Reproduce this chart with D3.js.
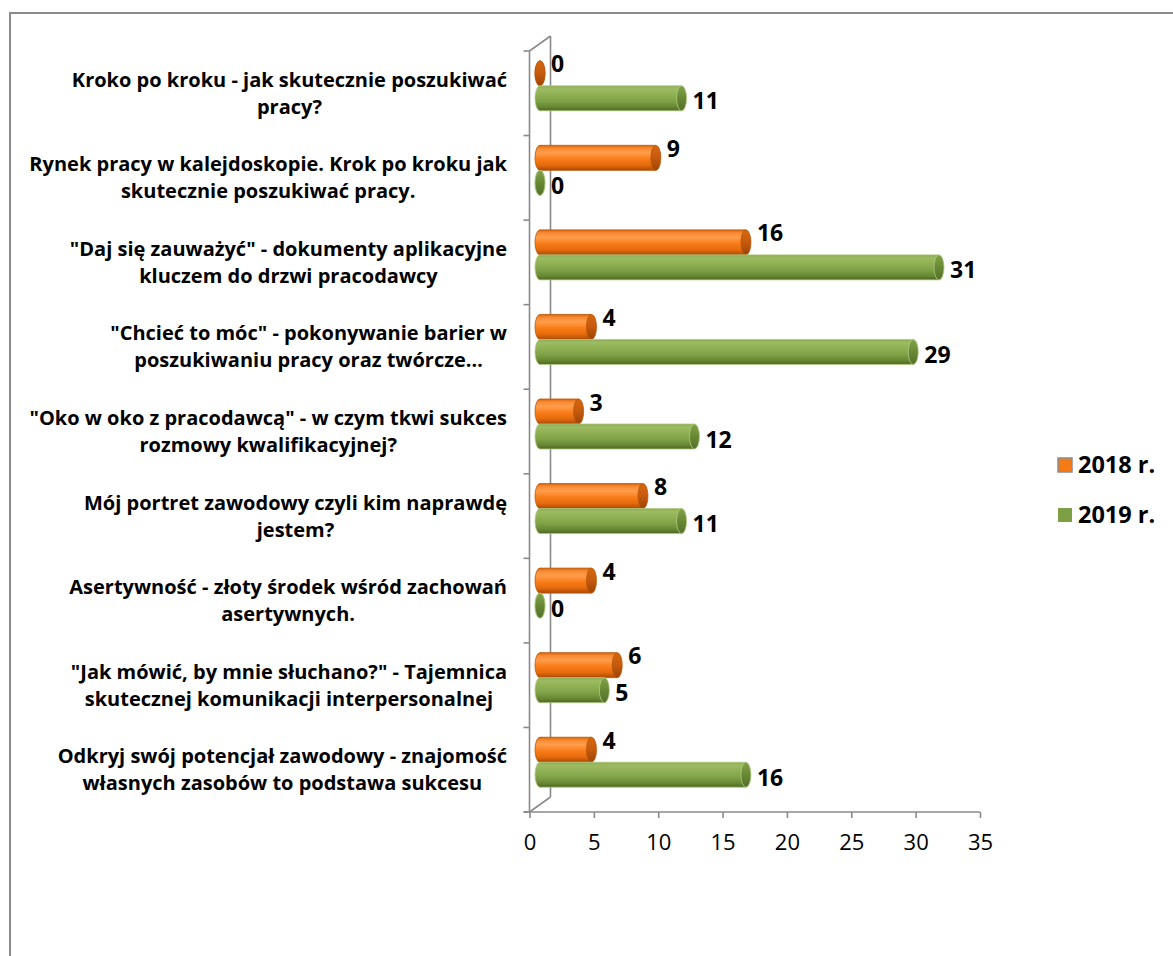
<!DOCTYPE html>
<html><head><meta charset="utf-8">
<script src="https://cdn.jsdelivr.net/npm/d3@7"></script>
<style>html,body{margin:0;padding:0;background:#fff;}svg{display:block;}</style>
</head><body>
<script>
const categories = [
  "Kroko po kroku - jak skutecznie poszukiwać|pracy?",
  "Rynek pracy w kalejdoskopie. Krok po kroku jak|skutecznie poszukiwać pracy.",
  "\"Daj się zauważyć\" - dokumenty aplikacyjne|kluczem do drzwi pracodawcy",
  "\"Chcieć to móc\" - pokonywanie barier w|poszukiwaniu pracy oraz twórcze…",
  "\"Oko w oko z pracodawcą\" - w czym tkwi sukces|rozmowy kwalifikacyjnej?",
  "Mój portret zawodowy czyli kim naprawdę|jestem?",
  "Asertywność - złoty środek wśród zachowań|asertywnych.",
  "\"Jak mówić, by mnie słuchano?\" - Tajemnica|skutecznej komunikacji interpersonalnej",
  "Odkryj swój potencjał zawodowy - znajomość|własnych zasobów to podstawa sukcesu"
];
const seriesNames = ["2018 r.", "2019 r."];
const values2018 = [0, 9, 16, 4, 3, 8, 4, 6, 4];
const values2019 = [11, 0, 31, 29, 12, 11, 0, 5, 16];
const xTicks = [0, 5, 10, 15, 20, 25, 30, 35];

const W = 1173, H = 956;
const svg = d3.select("body").append("svg").attr("width", W).attr("height", H);
const defs = svg.append("defs");

const FONT = "'Open Sans', sans-serif";
const axisColor = "#8a8a8a";

// 3D geometry
const depthDx = 21, depthDy = -15;
const x = d3.scaleLinear().domain([0, 35]).range([529.5, 980]);
const y = d3.scaleBand().domain(d3.range(categories.length)).range([51, 812]).paddingInner(0).paddingOuter(0);
const ySeries = d3.scaleBand().domain(seriesNames).range([-25, 25]);

// outer border
svg.append("path").attr("d", `M10,${H+5} L10,13 L${W+5},13`)
  .attr("fill", "none").attr("stroke", "#8c8c8c").attr("stroke-width", 2);

// gradients
function vGrad(id, stops) {
  const g = defs.append("linearGradient").attr("id", id).attr("x1", 0).attr("y1", 0).attr("x2", 0).attr("y2", 1);
  stops.forEach(s => g.append("stop").attr("offset", s[0]).attr("stop-color", s[1]));
}
vGrad("gOrange", [[0, "#d9660c"], [0.12, "#f98a33"], [0.3, "#ff9d4c"], [0.55, "#f97c18"], [0.8, "#e46a0c"], [1, "#a94a06"]]);
vGrad("gOrangeCap", [[0, "#d8680f"], [0.5, "#c55a0e"], [1, "#9c4406"]]);
vGrad("gGreen", [[0, "#8aaa52"], [0.12, "#9dbb62"], [0.35, "#90b054"], [0.6, "#80a247"], [0.85, "#668632"], [1, "#4b6622"]]);
vGrad("gGreenCap", [[0, "#82a249"], [0.5, "#688834"], [1, "#52702a"]]);

const fills = {"2018 r.": ["url(#gOrange)", "url(#gOrangeCap)", "#b85608"], "2019 r.": ["url(#gGreen)", "url(#gGreenCap)", "#b0ca80"]};

// axis wall (3D)
const gAxis = svg.append("g").attr("stroke", axisColor).attr("fill", "none").attr("stroke-width", 1.6);
const x0 = x(0), yTop = y.range()[0], yBot = y.range()[1];
gAxis.append("line").attr("x1", x0).attr("y1", yTop).attr("x2", x0).attr("y2", yBot);
gAxis.append("line").attr("x1", x0 + depthDx).attr("y1", yTop + depthDy).attr("x2", x0 + depthDx).attr("y2", yBot + depthDy);
gAxis.append("line").attr("x1", x0).attr("y1", yTop).attr("x2", x0 + depthDx).attr("y2", yTop + depthDy);
gAxis.append("line").attr("x1", x0).attr("y1", yBot).attr("x2", x0 + depthDx).attr("y2", yBot + depthDy);
// category ticks
const bounds = d3.range(categories.length + 1).map(i => i < categories.length ? y(i) : yBot);
gAxis.selectAll("line.ct").data(bounds).join("line").attr("class", "ct")
  .attr("x1", x0 - 6).attr("x2", x0).attr("y1", d => d).attr("y2", d => d);

// x axis
const xAxisG = svg.append("g").attr("transform", `translate(0,${yBot})`)
  .call(d3.axisBottom(x).tickValues(xTicks).tickSize(6).tickPadding(16).tickSizeOuter(0));
xAxisG.select(".domain").attr("stroke", axisColor).attr("stroke-width", 1.6).attr("d", `M${x0 - 6},0H${x(35)}`);
xAxisG.selectAll(".tick line").attr("stroke", axisColor).attr("stroke-width", 1.6);
xAxisG.selectAll(".tick text").attr("font-family", FONT).attr("font-size", 22).attr("fill", "#000");

// bars (cylinders)
const data = [];
categories.forEach((c, i) => {
  data.push({i, s: "2018 r.", v: values2018[i]});
  data.push({i, s: "2019 r.", v: values2019[i]});
});
const rx = 5, ry = 12.5;
const gBars = svg.append("g");
data.forEach(d => {
  const yc = y(d.i) + y.bandwidth() / 2 + depthDy / 2 + ySeries(d.s) + ySeries.bandwidth() / 2;
  const xa = x(0) + depthDx / 2, xb = x(d.v) + depthDx / 2;
  const f = fills[d.s];
  const g = gBars.append("g");
  g.append("ellipse").attr("cx", xa).attr("cy", yc).attr("rx", rx).attr("ry", ry).attr("fill", f[0]).attr("stroke", f[2]).attr("stroke-width", 0.8);
  if (d.v > 0) {
    g.append("rect").attr("x", xa).attr("y", yc - ry).attr("width", xb - xa).attr("height", 2 * ry).attr("fill", f[0]);
    g.append("line").attr("x1", xa).attr("x2", xb).attr("y1", yc - ry).attr("y2", yc - ry).attr("stroke", f[2]).attr("stroke-width", 0.8);
    g.append("line").attr("x1", xa).attr("x2", xb).attr("y1", yc + ry).attr("y2", yc + ry).attr("stroke", f[2]).attr("stroke-width", 0.8);
  }
  g.append("ellipse").attr("cx", xb).attr("cy", yc).attr("rx", rx).attr("ry", ry).attr("fill", f[1]).attr("stroke", f[2]).attr("stroke-width", 0.8);
  // value label
  const off = d.s === "2018 r." ? -9 : 3;
  svg.append("text").attr("x", xb + 11).attr("y", yc + off).attr("dy", "0.35em")
    .attr("font-family", FONT).attr("font-weight", 700).attr("font-size", 23).attr("fill", "#000").text(d.v);
});

// category labels
const labelRight = 507, lineH = 27;
categories.forEach((c, i) => {
  const lines = c.split("|");
  const g = svg.append("g");
  const ts = lines.map((ln, k) => g.append("text").attr("font-family", FONT).attr("font-weight", 700)
    .attr("font-size", 20).attr("fill", "#000").attr("text-anchor", "middle").attr("dy", "0.35em").text(ln));
  const maxW = d3.max(ts, t => t.node().getComputedTextLength());
  const cy = y(i) + y.bandwidth() / 2;
  ts.forEach((t, k) => t.attr("x", labelRight - maxW / 2).attr("y", cy + (k - (lines.length - 1) / 2) * lineH));
});

// legend
const legY = d3.scalePoint().domain(seriesNames).range([465, 515]);
const legColors = {"2018 r.": "#f57c14", "2019 r.": "#7f9f45"};
seriesNames.forEach(s => {
  const cy = legY(s);
  svg.append("rect").attr("x", 1058).attr("y", cy - 7).attr("width", 14).attr("height", 14)
    .attr("fill", legColors[s]).attr("stroke", s === "2018 r." ? "#8c8c8c" : "none").attr("stroke-width", 1.5);
  svg.append("text").attr("x", 1078).attr("y", cy).attr("dy", "0.35em").attr("font-family", FONT)
    .attr("font-weight", 700).attr("font-size", 23.5).attr("fill", "#000").text(s);
});
</script>
</body></html>
